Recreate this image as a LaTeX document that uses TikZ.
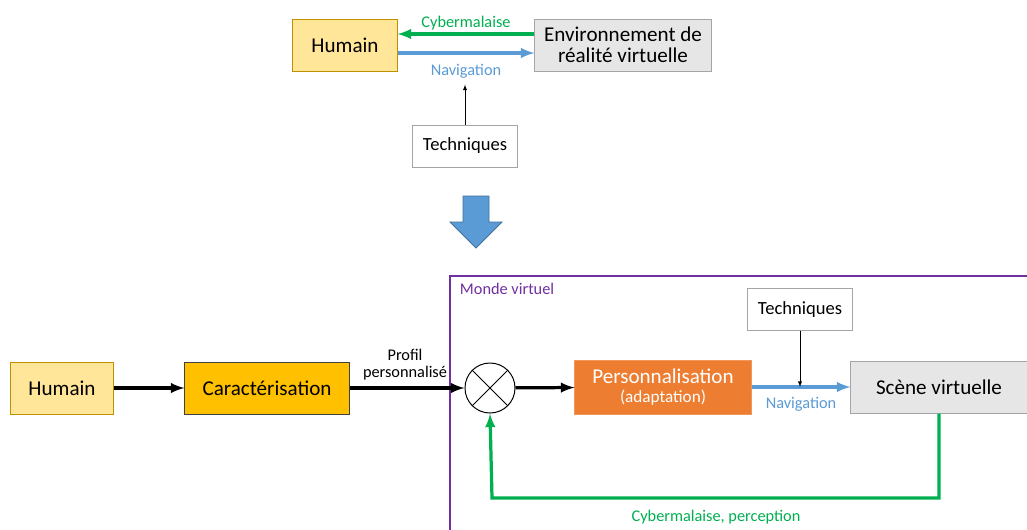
\documentclass[tikz,border=0pt]{standalone}
\usepackage{fontspec}
\setmainfont{Carlito}
\usetikzlibrary{arrows, positioning, calc}

\definecolor{humfill}{HTML}{FFE699}
\definecolor{humdraw}{HTML}{BF9000}
\definecolor{carfill}{HTML}{FFC000}
\definecolor{persfill}{HTML}{ED7D31}
\definecolor{envfill}{HTML}{E7E6E6}
\definecolor{envdraw}{HTML}{A5A5A5}
\definecolor{navblue}{HTML}{5B9BD5}
\definecolor{navdark}{HTML}{41719C}
\definecolor{cybgreen}{HTML}{00B050}
\definecolor{mondeviolet}{HTML}{7030A0}

\tikzset{
  box/.style={draw, line width=0.7pt, align=center, inner sep=2pt},
  bigtxt/.style={font=\fontsize{15}{17}\selectfont},
  smalltxt/.style={font=\fontsize{11.6}{13.5}\selectfont},
  thick arrow/.style={->, line width=2.3pt},
}

\begin{document}
\begin{tikzpicture}[>=latex, x=0.025cm, y=-0.025cm]
  \clip (0,0) rectangle (1027,529);
  \fill[white] (0,0) rectangle (1027,529);

  % avant
  \node[box, bigtxt, fill=humfill, draw=humdraw, minimum width=2.6cm, minimum height=1.3cm] (hum1) at (345,45) {Humain};
  \node[box, bigtxt, fill=envfill, draw=envdraw, minimum width=4.4cm, minimum height=1.3cm] (env) at (623,45) {Environnement de\\[-2pt]réalité virtuelle};
  \node[box, font=\fontsize{13.2}{15}\selectfont, draw=envdraw, minimum width=2.6cm, minimum height=1.05cm] (tech1) at (465,146) {Techniques};

  \draw[thick arrow, cybgreen] ([yshift=0.275cm]env.west) -- ([yshift=0.275cm]hum1.east)
    node[midway, above=-1.5pt, smalltxt, text=cybgreen] (cyb1) {Cybermalaise};
  \draw[thick arrow, navblue] ([yshift=-0.2cm]hum1.east) -- ([yshift=-0.2cm]env.west)
    node[midway, below=3.5pt, smalltxt, text=navblue] (nav1) {Navigation};
  \draw[->, thin] (tech1.north) -- (tech1.north |- nav1.south);

  % fleche de transition
  \filldraw[fill=navblue, draw=navdark, line width=0.6pt]
    (463,196) -- (489,196) -- (489,222) -- (502,222) -- (476,248)
    -- (450,222) -- (463,222) -- cycle;

  % apres
  \draw[mondeviolet, line width=0.8pt] (450,540) -- (450,276) -- (1040,276);
  \node[anchor=west, font=\fontsize{11.6}{13}\selectfont, text=mondeviolet] (monde) at (455,289) {Monde virtuel};

  \node[box, bigtxt, fill=humfill, draw=humdraw, minimum width=2.55cm, minimum height=1.3cm] (hum2) at (62,388) {Humain};
  \node[box, bigtxt, fill=carfill, draw=black!75, minimum width=4.1cm, minimum height=1.3cm] (car) at (267,388) {Caractérisation};
  \node[draw, circle, line width=0.7pt, minimum size=1.25cm] (mix) at (490,388) {};
  \draw[line width=0.7pt] (mix.north west) -- (mix.south east) (mix.north east) -- (mix.south west);
  \node[box, fill=persfill, draw=persfill!80!white, text=white, minimum width=4.4cm, minimum height=1.35cm] (pers) at (663,387)
    {\fontsize{15}{16}\selectfont Personnalisation\\[1pt]\fontsize{12.2}{14}\selectfont(adaptation)};
  \node[box, font=\fontsize{13.2}{15}\selectfont, draw=envdraw, minimum width=2.62cm, minimum height=1.03cm] (tech2) at (800,309.5) {Techniques};
  \node[box, bigtxt, fill=envfill, draw=envdraw, minimum width=4.4cm, minimum height=1.3cm] (scene) at (939,387) {Scène virtuelle};
  \coordinate (fb) at (492,498);

  \draw[thick arrow] (hum2) -- (car);
  \draw[thick arrow] (car) -- (mix)
    node[midway, above=1pt, smalltxt, xshift=-0.05cm, align=center] (profil) {Profil\\[-1pt]personnalisé};
  \draw[thick arrow] (mix) -- (pers);
  \draw[thick arrow, navblue] (pers) -- (scene)
    node[midway, below=3pt, smalltxt, text=navblue] (nav2) {Navigation};
  \draw[->, thin] (tech2.south) -- (tech2.south |- pers.east);
  \draw[thick arrow, cybgreen] (scene.south) |- (fb) -- (mix.south);
  \node[smalltxt, text=cybgreen] (cyb2) at (716,517) {Cybermalaise, perception};
\end{tikzpicture}
\end{document}
